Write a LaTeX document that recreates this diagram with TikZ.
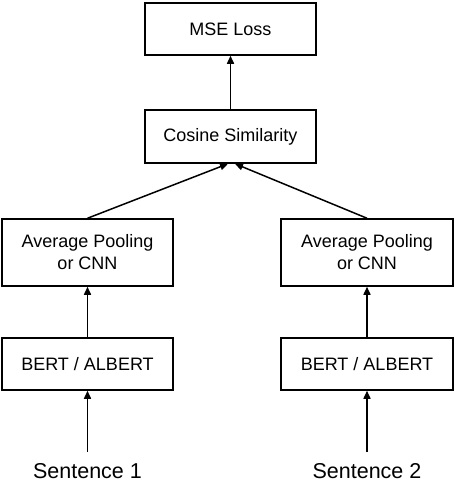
\documentclass[tikz,border=0pt]{standalone}
\usepackage{fontspec}
\setmainfont{Liberation Sans}
\usetikzlibrary{arrows.meta}
\begin{document}
\begin{tikzpicture}[x=1pt,y=-1pt,
  box/.style={draw, line width=1.5pt, inner sep=0pt, align=center,
    font=\fontsize{18}{22}\selectfont},
  sent/.style={inner sep=0pt, font=\fontsize{21.5}{24}\selectfont},
  arr/.style={line width=1.5pt, -{Triangle[length=8pt,width=7pt]}}]
\useasboundingbox (0,0) rectangle (454,482);
\node[box, minimum width=171pt, minimum height=52pt] (mse) at (230.5,29) {MSE Loss};
\node[box, minimum width=171pt, minimum height=53pt] (cos) at (230.5,136.5) {Cosine Similarity};
\node[box, minimum width=171pt, minimum height=67pt] (a1) at (87.5,252.5) {Average Pooling\\or CNN};
\node[box, minimum width=171pt, minimum height=52pt] (b1) at (87.5,364) {BERT / ALBERT};
\node[box, minimum width=172pt, minimum height=67pt] (a2) at (367,252.5) {Average Pooling\\or CNN};
\node[box, minimum width=172pt, minimum height=52pt] (b2) at (367,364) {BERT / ALBERT};
\node[sent] (s1) at (87.5,471) {Sentence 1};
\node[sent] (s2) at (367,471) {Sentence 2};
\draw[arr] ([yshift=11pt]s1.north) -- (b1.south);
\draw[arr] ([yshift=11pt]s2.north) -- (b2.south);
\draw[arr] (b1.north) -- (a1.south);
\draw[arr] (b2.north) -- (a2.south);
\draw[arr] (a1.north) -- ([xshift=-2.5pt]cos.south);
\draw[arr] (a2.north) -- ([xshift=4.5pt]cos.south);
\draw[arr] (cos.north) -- (mse.south);
\end{tikzpicture}
\end{document}
